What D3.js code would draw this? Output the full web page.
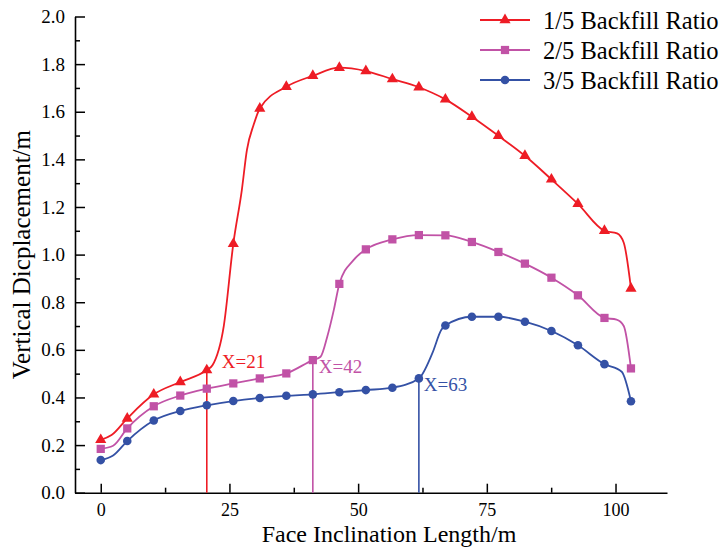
<!DOCTYPE html>
<html><head><meta charset="utf-8">
<script src="https://cdn.jsdelivr.net/npm/d3@7"></script>
<style>
body{margin:0;background:#fff}
svg{display:block}
text{font-family:"Times New Roman","Liberation Serif",serif;fill:#000}
</style>
</head><body>
<svg id="c" width="722" height="548"></svg>
<script>
// ---- data ----
const xPos = [0,5.15,10.3,15.45,20.6,25.75,30.9,36.05,41.2,46.35,51.5,56.65,61.8,66.95,72.1,77.25,82.4,87.55,92.7,97.85,103];
const ratio1of5 = [0.222,0.312,0.413,0.465,0.515,1.045,1.614,1.705,1.751,1.785,1.771,1.737,1.703,1.652,1.579,1.499,1.415,1.316,1.213,1.100,0.858];
const ratio2of5 = [0.184,0.270,0.363,0.408,0.437,0.459,0.480,0.501,0.557,0.877,1.022,1.064,1.082,1.081,1.053,1.011,0.962,0.903,0.829,0.734,0.522];
const ratio3of5 = [0.137,0.217,0.303,0.343,0.367,0.385,0.398,0.407,0.413,0.422,0.431,0.441,0.480,0.702,0.739,0.739,0.718,0.679,0.619,0.540,0.384];
// extra curve points (line only, no marker)
const knots1of5 = [[2.1,0.242],[21.7,0.535],[23.9,0.70],[27.4,1.27],[28.4,1.44],[29.7,1.545],[100.3,1.089],[101.6,1.05]];
const knots2of5 = [[2.4,0.197],[42.7,0.571],[44.0,0.655],[45.3,0.77],[49.1,0.977],[100.2,0.727],[101.6,0.70]];
const knots3of5 = [[2.4,0.156],[64.4,0.585],[66.2,0.685],[101.2,0.508]];
const seriesNames = ["1/5 Backfill Ratio","2/5 Backfill Ratio","3/5 Backfill Ratio"];
const markIndex = [4,8,12];            // marker index of the vertical reference lines
const markLabels = ["X=21","X=42","X=63"];
const xTicks = [0,25,50,75,100];
const xMinor = [12.5,37.5,62.5,87.5];
const yTicks = [0,0.2,0.4,0.6,0.8,1.0,1.2,1.4,1.6,1.8,2.0];
const yMinor = [0.1,0.3,0.5,0.7,0.9,1.1,1.3,1.5,1.7,1.9];
const xTitle = "Face Inclination Length/m";
const yTitle = "Vertical Dicplacement/m";

// ---- styles ----
const colors = ["#ee1c25","#c152a6","#3451a5"];
const symbols = [d3.symbolTriangle, d3.symbolSquare, d3.symbolCircle];
const symSizes = [54, 68, 58];
const labelOffsets = [[15,-2],[6,13],[5,13]];
const FONT = 'font-family:"Times New Roman","Liberation Serif",serif';

const svg = d3.select("#c");
const x = d3.scaleLinear().domain([-5,110]).range([75,667]);
const y = d3.scaleLinear().domain([0,2]).range([492.7,16.5]);

const values = [ratio1of5, ratio2of5, ratio3of5];
const knots = [knots1of5, knots2of5, knots3of5];
const series = values.map((v,i)=>{
  const pts = xPos.map((xx,j)=>({x:xx,y:v[j]}));
  const linePts = pts.concat(knots[i].map(k=>({x:k[0],y:k[1]}))).sort((a,b)=>a.x-b.x);
  return {name:seriesNames[i], color:colors[i], sym:symbols[i], size:symSizes[i], pts, linePts};
});

// axes
svg.append("g").attr("transform",`translate(0,${y(0)})`)
  .call(d3.axisBottom(x).tickValues(xTicks).tickSize(-9).tickSizeOuter(0).tickPadding(11).tickFormat(d3.format("d")));
svg.append("g").attr("transform",`translate(0,${y(0)})`)
  .call(d3.axisBottom(x).tickValues(xMinor).tickSize(-5).tickSizeOuter(0).tickFormat(""))
  .select(".domain").remove();
svg.append("g").attr("transform",`translate(${x(-5)},0)`)
  .call(d3.axisLeft(y).tickValues(yTicks).tickSize(-10).tickSizeOuter(0).tickPadding(10).tickFormat(d3.format(".1f")));
svg.append("g").attr("transform",`translate(${x(-5)},0)`)
  .call(d3.axisLeft(y).tickValues(yMinor).tickSize(-5).tickSizeOuter(0).tickFormat(""))
  .select(".domain").remove();
svg.selectAll(".domain").attr("stroke","#000").attr("stroke-width",1.6);
svg.selectAll(".tick line").attr("stroke","#000").attr("stroke-width",1.5);
svg.selectAll(".tick text").attr("style",FONT).attr("font-size",19).attr("fill","#000");
svg.selectAll("g").filter(function(){return false;});

// axis titles
svg.append("text").attr("x",389).attr("y",542).attr("text-anchor","middle")
  .attr("font-size",24).text(xTitle);
svg.append("text").attr("transform",`translate(30,${y(1)}) rotate(-90)`).attr("text-anchor","middle")
  .attr("font-size",25).text(yTitle);

// vertical reference lines
series.forEach((s,i)=>{
  const p = s.pts[markIndex[i]];
  svg.append("line").attr("x1",x(p.x)).attr("x2",x(p.x)).attr("y1",y(p.y)).attr("y2",y(0))
    .attr("stroke",s.color).attr("stroke-width",1.6);
});

// lines
const line = d3.line().x(d=>x(d.x)).y(d=>y(d.y)).curve(d3.curveMonotoneX);
series.forEach(s=>{
  svg.append("path").datum(s.linePts).attr("d",line).attr("fill","none")
    .attr("stroke",s.color).attr("stroke-width",1.8).attr("stroke-linejoin","round");
});
// markers
series.forEach(s=>{
  svg.append("g").selectAll("path").data(s.pts).join("path")
    .attr("transform",d=>`translate(${x(d.x)},${y(d.y)})`)
    .attr("d",d3.symbol().type(s.sym).size(s.size)).attr("fill",s.color);
});

// annotations
series.forEach((s,i)=>{
  const p = s.pts[markIndex[i]];
  svg.append("text").attr("x",x(p.x)+labelOffsets[i][0]).attr("y",y(p.y)+labelOffsets[i][1])
    .attr("font-size",19).style("fill",s.color).text(markLabels[i]);
});

// legend
const lg = svg.append("g");
series.forEach((s,i)=>{
  const ly = 20 + i*30;
  lg.append("line").attr("x1",480).attr("x2",530).attr("y1",ly).attr("y2",ly)
    .attr("stroke",s.color).attr("stroke-width",1.8);
  lg.append("path").attr("transform",`translate(505,${ly})`)
    .attr("d",d3.symbol().type(s.sym).size(s.size)).attr("fill",s.color);
  lg.append("text").attr("x",543).attr("y",ly+8.5).attr("font-size",24.5).text(s.name);
});

// x tick label size slightly smaller to keep clear of the title
svg.selectAll("g").filter((d,i)=>i===0).selectAll(".tick text").attr("font-size",18);
</script>
</body></html>
